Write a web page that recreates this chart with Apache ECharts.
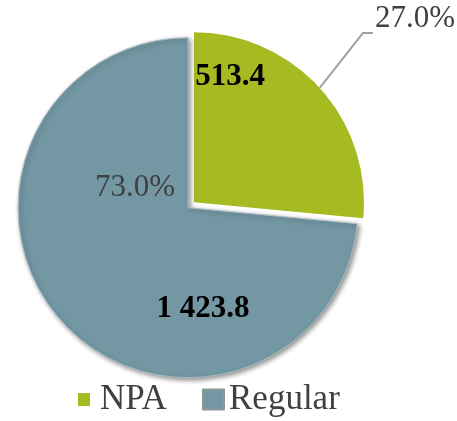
<!DOCTYPE html>
<html>
<head>
<meta charset="utf-8">
<style>
  html, body { margin: 0; padding: 0; background: #ffffff; }
  #chart { width: 457px; height: 421px; }
</style>
<script src="https://cdn.jsdelivr.net/npm/echarts@6/dist/echarts.min.js"></script>
</head>
<body>
<div id="chart"></div>
<script>
// Portfolio split: NPA vs Regular
const categories = ['NPA', 'Regular'];
const values = [513.4, 1423.8];
const shareLabels = ['27.0%', '73.0%'];
const sliceColors = ['#a6ba22', '#7398a4'];

// Layout
const CENTER = [191, 205];
const RADIUS = 170;
const OFFSET = 4;
const valueLabelPos = [[230, 77], [203, 309]];
const shareLabelPos = [[375, 19], [135, 188]];
const leaderBend = [363, 33];
const leaderEnd = [373, 33];
const FONT = '"Liberation Serif", "DejaVu Serif", serif';

function formatValue(v) {
  const parts = v.toFixed(1).split('.');
  parts[0] = parts[0].replace(/\B(?=(\d{3})+(?!\d))/g, ' ');
  return parts.join('.');
}

// Outer-edge point on the bisector of the first slice (where the leader line starts)
const total = values.reduce((a, b) => a + b, 0);
const bisect = (values[0] / total) * Math.PI; // clockwise from 12 o'clock
const dirX = Math.sin(bisect), dirY = -Math.cos(bisect);
const leaderStart = [
  CENTER[0] + dirX * (RADIUS + OFFSET),
  CENTER[1] + dirY * (RADIUS + OFFSET)
];

const chart = echarts.init(document.getElementById('chart'));

const sliceData = categories.map((name, i) => ({
  name: name,
  value: values[i],
  selected: true,
  itemStyle: i === 1 ? {
    color: sliceColors[i],
    shadowColor: 'rgba(0,0,0,0.45)',
    shadowBlur: 5,
    shadowOffsetX: 2,
    shadowOffsetY: 2,
    borderColor: '#a9bec5',
    borderWidth: 1
  } : { color: sliceColors[i] }
}));

const labelTexts = [];
categories.forEach((name, i) => {
  labelTexts.push({
    type: 'text',
    x: valueLabelPos[i][0], y: valueLabelPos[i][1],
    silent: true,
    style: {
      text: formatValue(values[i]),
      font: 'bold 31px ' + FONT,
      fill: '#000000',
      align: 'center',
      verticalAlign: 'middle'
    }
  });
  labelTexts.push({
    type: 'text',
    x: shareLabelPos[i][0], y: shareLabelPos[i][1],
    silent: true,
    style: {
      text: shareLabels[i],
      font: '31px ' + FONT,
      fill: '#404040',
      align: i === 0 ? 'left' : 'center',
      verticalAlign: 'middle'
    }
  });
});

chart.setOption({
  animation: false,
  legend: [
    {
      data: ['NPA'],
      left: 78, top: 382,
      padding: 0,
      itemWidth: 12, itemHeight: 13,
      icon: 'rect',
      selectedMode: false,
      textStyle: { fontFamily: FONT, fontSize: 35, color: '#404040', padding: [0, 0, 0, 5] }
    },
    {
      data: ['Regular'],
      left: 202, top: 382,
      padding: 0,
      itemWidth: 21, itemHeight: 20,
      icon: 'rect',
      selectedMode: false,
      itemStyle: { borderColor: '#8c9597', borderWidth: 2 },
      textStyle: { fontFamily: FONT, fontSize: 35, color: '#404040' }
    }
  ],
  graphic: [
    {
      type: 'polyline',
      silent: true,
      z: 10,
      shape: { points: [leaderStart, leaderBend, leaderEnd] },
      style: { stroke: '#a0a0a0', lineWidth: 2, fill: null }
    }
  ].concat(labelTexts.map(t => Object.assign({ z: 20 }, t))),
  series: [
    {
      name: 'Portfolio',
      type: 'pie',
      center: CENTER,
      radius: RADIUS,
      startAngle: 90,
      clockwise: true,
      selectedMode: 'multiple',
      selectedOffset: OFFSET,
      silent: true,
      data: sliceData,
      label: { show: false },
      labelLine: { show: false }
    }
  ]
});
</script>
</body>
</html>
